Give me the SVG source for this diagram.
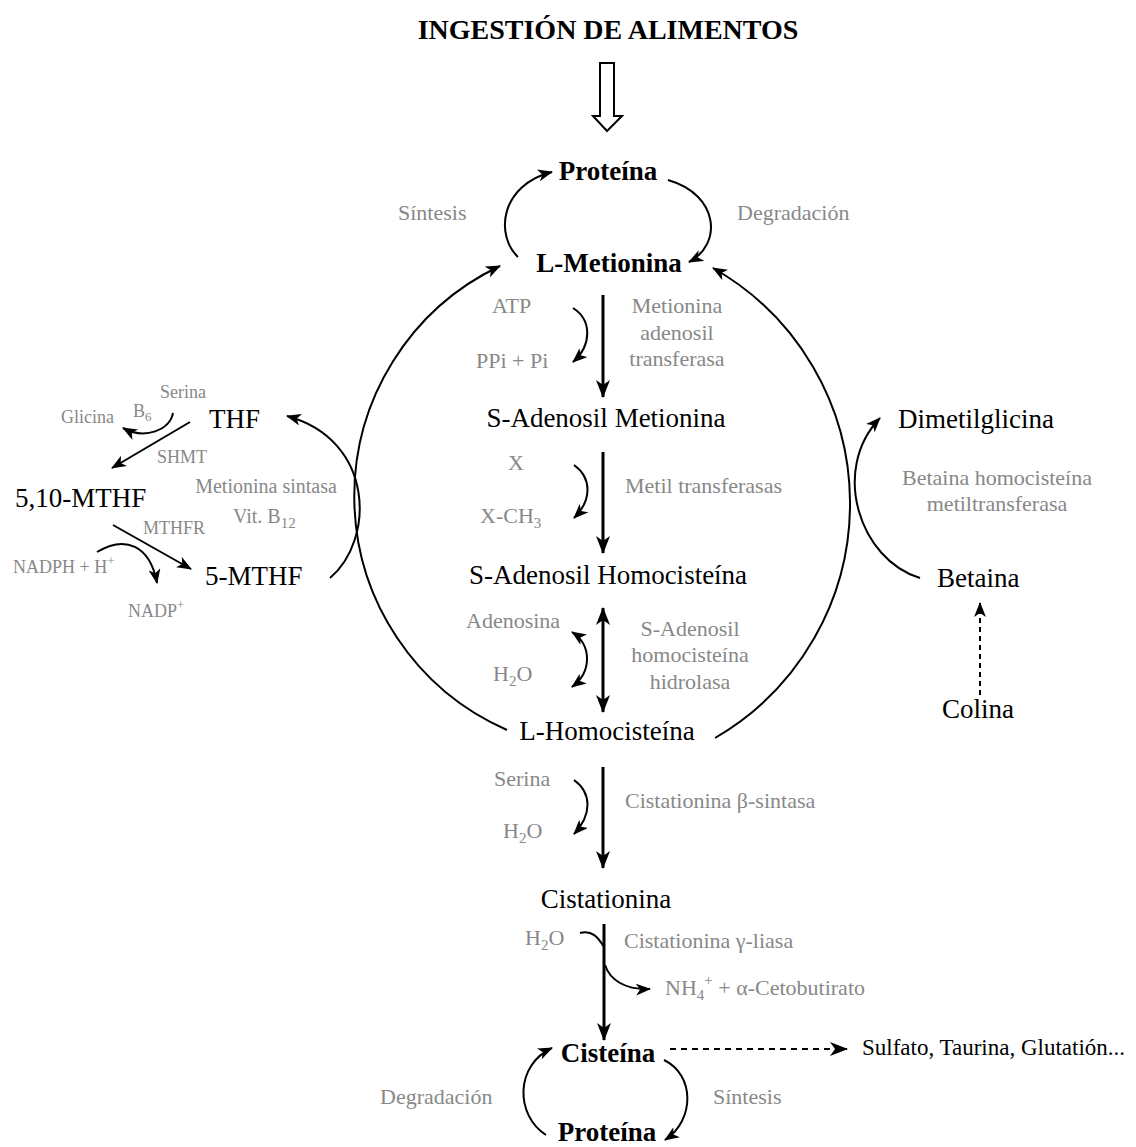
<svg xmlns="http://www.w3.org/2000/svg" width="1136" height="1147" viewBox="0 0 1136 1147">
<defs>
<marker id="a" markerUnits="userSpaceOnUse" markerWidth="18" markerHeight="14" viewBox="0 0 18 14" refX="17" refY="7" orient="auto"><path d="M0,0 L18,7 L0,14 L5,7 Z" fill="#000"/></marker>
<marker id="b" markerUnits="userSpaceOnUse" markerWidth="15" markerHeight="12" viewBox="0 0 15 12" refX="14" refY="6" orient="auto"><path d="M0,0 L15,6 L0,12 L4,6 Z" fill="#000"/></marker>
<marker id="as" markerUnits="userSpaceOnUse" markerWidth="18" markerHeight="14" viewBox="0 0 18 14" refX="17" refY="7" orient="auto-start-reverse"><path d="M0,0 L18,7 L0,14 L5,7 Z" fill="#000"/></marker>
<marker id="bs" markerUnits="userSpaceOnUse" markerWidth="15" markerHeight="12" viewBox="0 0 15 12" refX="14" refY="6" orient="auto-start-reverse"><path d="M0,0 L15,6 L0,12 L4,6 Z" fill="#000"/></marker>
</defs>
<style>
text{font-family:"Liberation Serif","Times New Roman",serif}
.m{font-size:27px;fill:#000}
.b{font-weight:bold}
.g{font-size:22px;fill:#888}
.s{font-size:18px;fill:#888}
.c{text-anchor:middle}
.t{fill:none;stroke:#000;stroke-width:3}
.n{fill:none;stroke:#000;stroke-width:2}
.d{stroke-dasharray:6 5}
</style>
<rect width="1136" height="1147" fill="#fff"/>

<g id="connectors">
<polygon points="600,63 614,63 614,116 622,116 607,131 593,116 600,116" fill="#fff" stroke="#000" stroke-width="2"/>
<path class="n" d="M518,257 C495,235 500,185 552,172" marker-end="url(#b)"/>
<path class="n" d="M668,180 C720,195 722,245 689,262" marker-end="url(#b)"/>
<path class="n" d="M507,730 A255,255 0 0 1 500,266" marker-end="url(#b)"/>
<path class="n" d="M715,738 A271,271 0 0 0 713,268" marker-end="url(#b)"/>
<path class="t" d="M603,295 L603,397" marker-end="url(#a)"/>
<path class="n" d="M573,308 C592,320 592,345 573,362" marker-end="url(#b)"/>
<path class="t" d="M603,452 L603,553" marker-end="url(#a)"/>
<path class="n" d="M574,465 C592,478 592,500 574,518" marker-end="url(#b)"/>
<path class="t" d="M603,608 L603,712" marker-start="url(#as)" marker-end="url(#a)"/>
<path class="n" d="M572,632 C592,645 592,672 572,687" marker-start="url(#bs)" marker-end="url(#b)"/>
<path class="t" d="M603,767 L603,868" marker-end="url(#a)"/>
<path class="n" d="M574,780 C592,793 592,815 574,834" marker-end="url(#b)"/>
<path class="t" d="M604,924 L604,1040" marker-end="url(#a)"/>
<path class="n" d="M580,933 C592,930 598,937 604,947"/>
<path class="n" d="M605,965 C610,980 625,990 650,989" marker-end="url(#b)"/>
<path class="n" d="M546,1135 C515,1115 515,1065 552,1048" marker-end="url(#b)"/>
<path class="n" d="M664,1060 C695,1075 695,1120 665,1140" marker-end="url(#b)"/>
<path class="n d" d="M670,1049 L847,1049" marker-end="url(#a)"/>
<path class="n" d="M920,578 C860,560 830,470 880,418" marker-end="url(#b)"/>
<path class="n" d="M980,695 L980,603" stroke-dasharray="5 4" marker-end="url(#b)"/>
<path class="n" d="M330,578 C375,540 375,440 287,416" marker-end="url(#b)"/>
<path class="n" d="M173,413 C170,430 145,440 123,428" marker-end="url(#b)"/>
<path class="n" d="M190,422 L112,468" marker-end="url(#b)"/>
<path class="n" d="M113,525 L191,569" marker-end="url(#b)"/>
<path class="n" d="M97,552 C125,535 150,545 157,583" marker-end="url(#b)"/>
</g>

<g id="title"><text class="m b c" x="608" y="39" style="font-size:28px">INGESTIÓN DE ALIMENTOS</text></g>
<g id="proteina-top"><text class="m b c" x="608" y="180">Proteína</text></g>
<g id="sintesis-top"><text class="g" x="398" y="220">Síntesis</text></g>
<g id="degradacion-top"><text class="g" x="737" y="220">Degradación</text></g>
<g id="l-metionina"><text class="m b c" x="609" y="272">L-Metionina</text></g>
<g id="atp"><text class="g" x="492" y="313">ATP</text><text class="g" x="476" y="368">PPi + Pi</text></g>
<g id="mat"><text class="g c" x="677" y="313">Metionina</text><text class="g c" x="677" y="340">adenosil</text><text class="g c" x="677" y="366">transferasa</text></g>
<g id="sam"><text class="m c" x="606" y="427">S-Adenosil Metionina</text></g>
<g id="x"><text class="g" x="508" y="470">X</text><text class="g" x="480" y="523">X-CH<tspan dy="5" font-size="15">3</tspan></text></g>
<g id="mt"><text class="g" x="625" y="493">Metil transferasas</text></g>
<g id="sah"><text class="m c" x="608" y="584">S-Adenosil Homocisteína</text></g>
<g id="adenosina"><text class="g" x="466" y="628">Adenosina</text><text class="g" x="493" y="681">H<tspan dy="5" font-size="15">2</tspan><tspan dy="-5">O</tspan></text></g>
<g id="sahh"><text class="g c" x="690" y="636">S-Adenosil</text><text class="g c" x="690" y="662">homocisteína</text><text class="g c" x="690" y="689">hidrolasa</text></g>
<g id="l-homocisteina"><text class="m c" x="607" y="740">L-Homocisteína</text></g>
<g id="serina"><text class="g" x="494" y="786">Serina</text><text class="g" x="503" y="838">H<tspan dy="5" font-size="15">2</tspan><tspan dy="-5">O</tspan></text></g>
<g id="cbs"><text class="g" x="625" y="808">Cistationina β-sintasa</text></g>
<g id="cistationina"><text class="m c" x="606" y="908">Cistationina</text></g>
<g id="h2o-cgl"><text class="g" x="525" y="945">H<tspan dy="5" font-size="15">2</tspan><tspan dy="-5">O</tspan></text></g>
<g id="cgl"><text class="g" x="624" y="948">Cistationina γ-liasa</text></g>
<g id="nh4"><text class="g" x="665" y="995">NH<tspan dy="5" font-size="15">4</tspan><tspan dy="-15" font-size="15">+</tspan><tspan dy="10"> + α-Cetobutirato</tspan></text></g>
<g id="cisteina"><text class="m b c" x="608" y="1062">Cisteína</text></g>
<g id="sulfato"><text class="m" x="862" y="1055" style="font-size:23px">Sulfato, Taurina, Glutatión...</text></g>
<g id="degradacion-bottom"><text class="g" x="380" y="1104">Degradación</text></g>
<g id="sintesis-bottom"><text class="g" x="713" y="1104">Síntesis</text></g>
<g id="proteina-bottom"><text class="m b c" x="607" y="1141">Proteína</text></g>
<g id="dimetilglicina"><text class="m" x="898" y="428">Dimetilglicina</text></g>
<g id="bhmt"><text class="g c" x="997" y="485">Betaina homocisteína</text><text class="g c" x="997" y="511">metiltransferasa</text></g>
<g id="betaina"><text class="m" x="937" y="587">Betaina</text></g>
<g id="colina"><text class="m c" x="978" y="718">Colina</text></g>
<g id="thf"><text class="m" x="209" y="428">THF</text></g>
<g id="serina-left"><text class="s" x="160" y="398">Serina</text><text class="s" x="133" y="417">B<tspan dy="4" font-size="13">6</tspan></text><text class="s" x="61" y="423">Glicina</text></g>
<g id="shmt"><text class="s" x="157" y="463">SHMT</text></g>
<g id="mthf510"><text class="m" x="15" y="507">5,10-MTHF</text></g>
<g id="ms"><text class="g c" x="266" y="493" style="font-size:20px">Metionina sintasa</text><text class="g" x="233" y="523" style="font-size:20px">Vit. B<tspan dy="5" font-size="15">12</tspan></text></g>
<g id="mthfr"><text class="s" x="143" y="534">MTHFR</text></g>
<g id="nadph"><text class="s" x="13" y="573">NADPH + H<tspan dy="-8" font-size="13">+</tspan></text><text class="s" x="128" y="617">NADP<tspan dy="-8" font-size="13">+</tspan></text></g>
<g id="mthf5"><text class="m" x="205" y="585">5-MTHF</text></g>
</svg>
